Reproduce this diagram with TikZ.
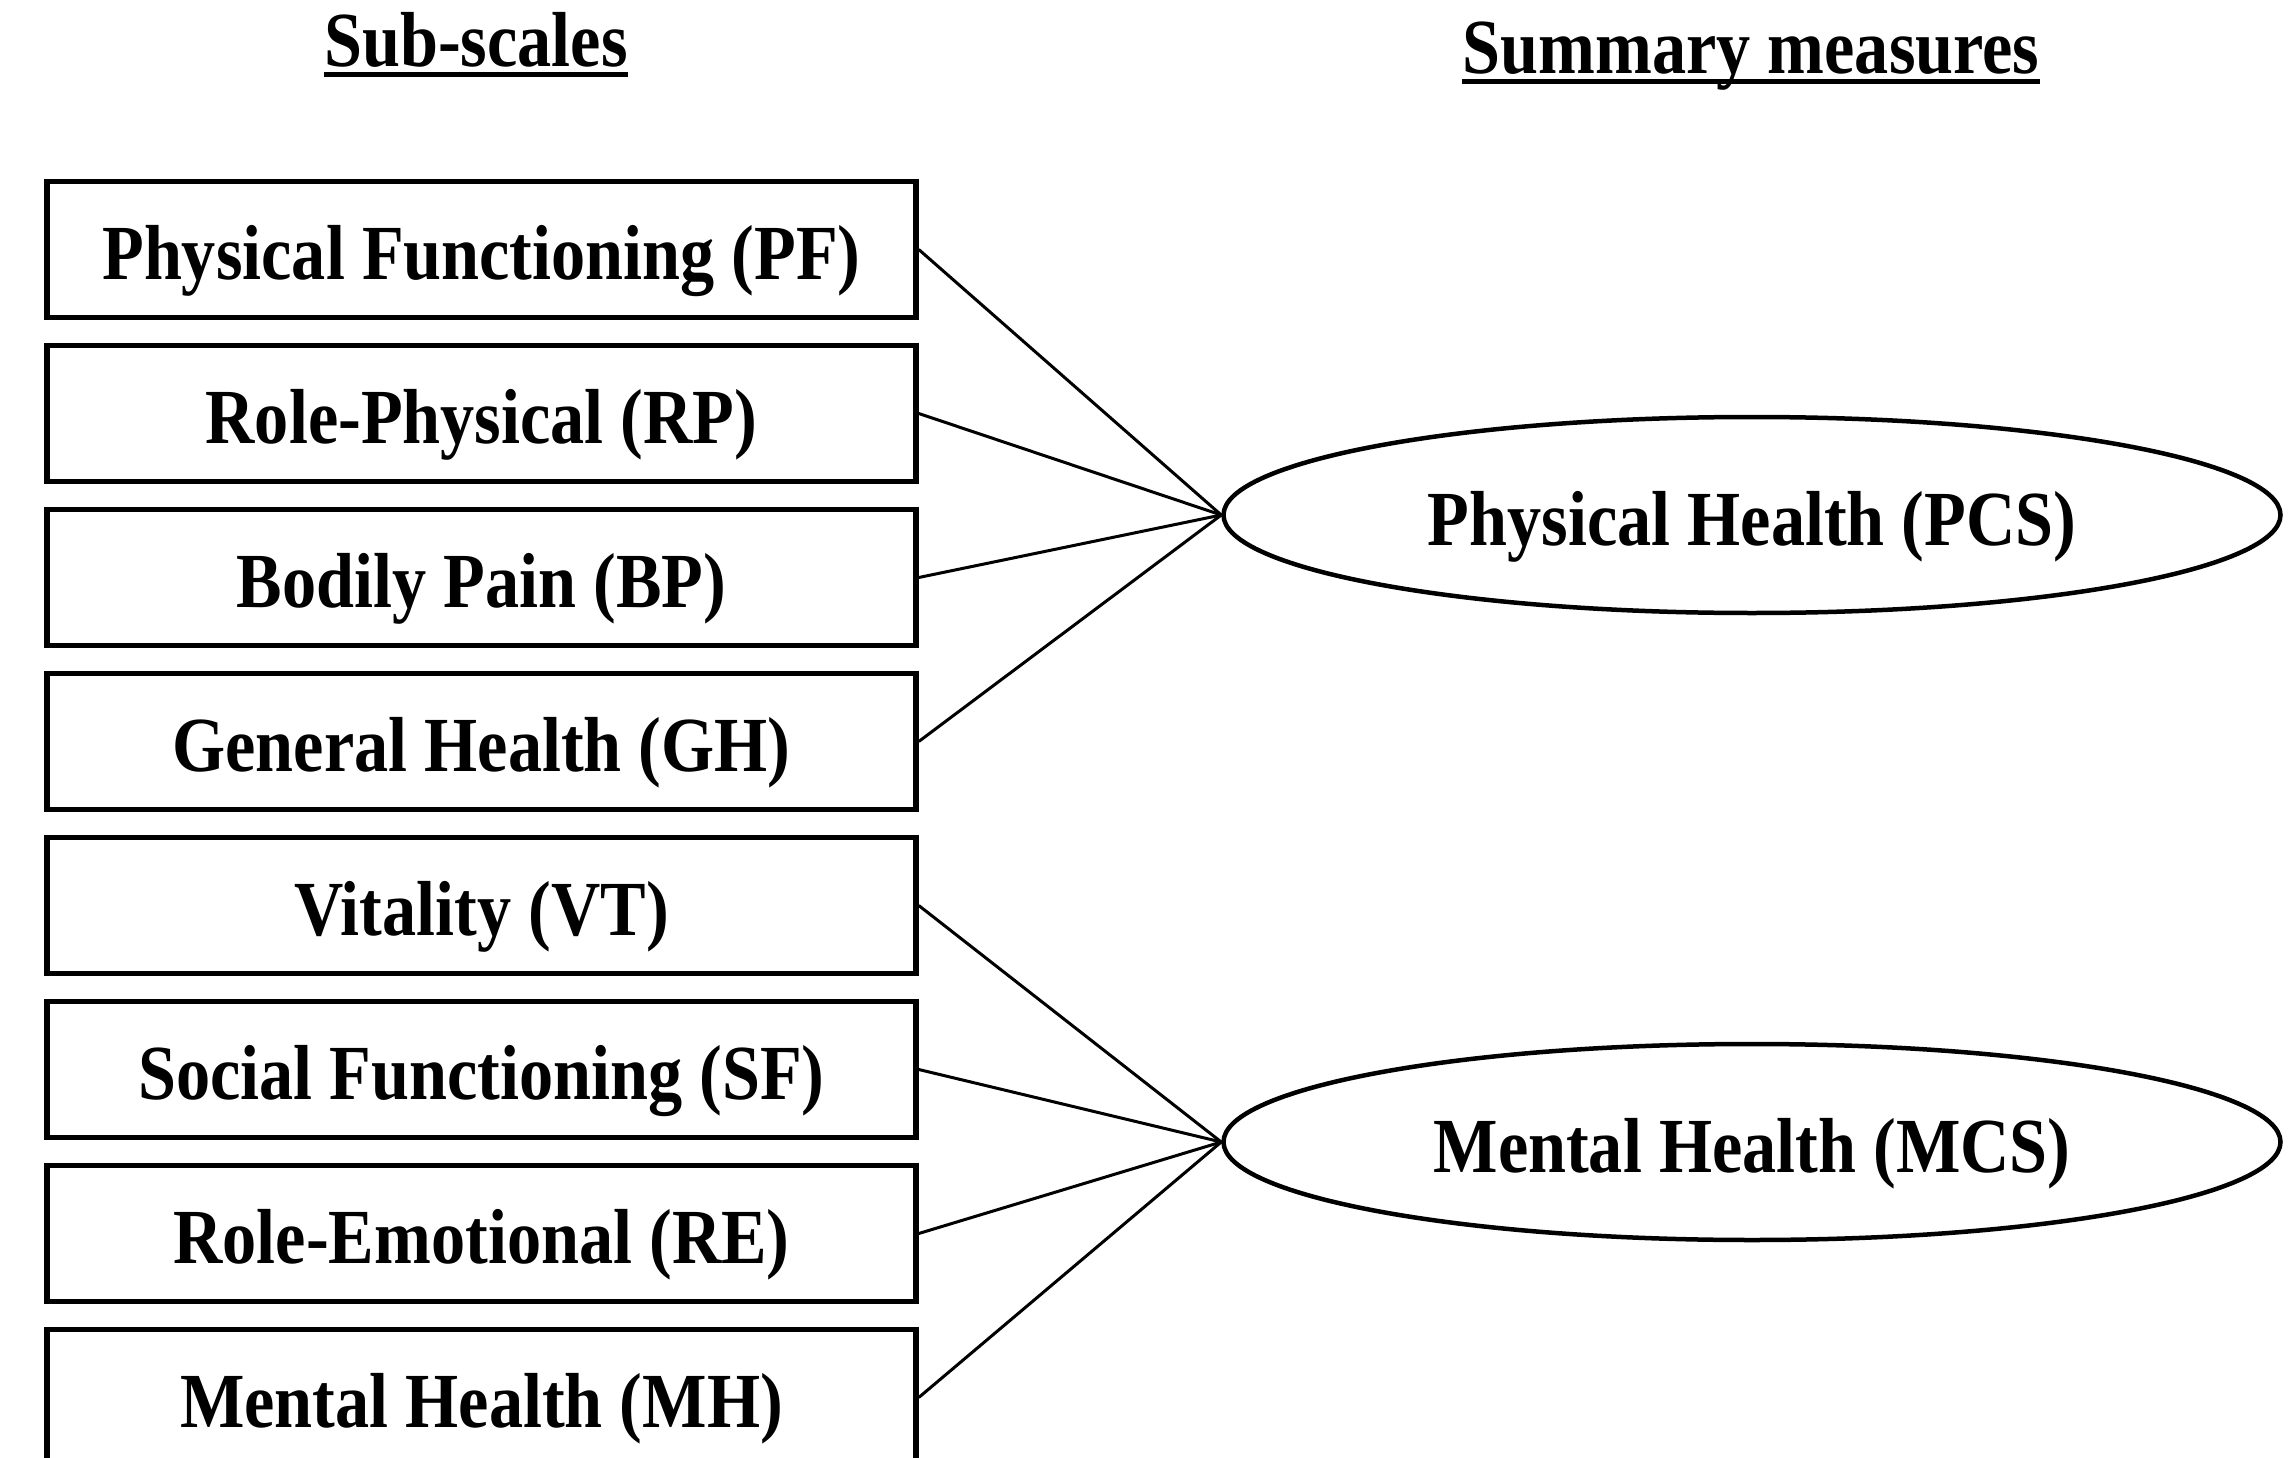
\documentclass[tikz,border=0pt]{standalone}
\usepackage{fontspec}
\setmainfont{Liberation Serif}
\newfontfamily\labfont[FakeStretch=0.875]{Liberation Serif}
\usetikzlibrary{shapes.geometric}
\begin{document}
\begin{tikzpicture}[x=1pt,y=-1pt,
  lbl/.style={font=\labfont\bfseries\fontsize{78}{84}\selectfont},
  sub/.style={lbl, draw, line width=5.5pt, minimum width=869pt, minimum height=136pt, inner sep=0pt, text height=60pt, text depth=0pt},
  summ/.style={lbl, draw, ellipse, line width=4.5pt, minimum width=1057pt, minimum height=196pt, inner sep=0pt, text height=60pt, text depth=0pt},
  link/.style={line width=3pt},
  hdr/.style={lbl, anchor=base, inner sep=0pt},
  uline/.style={line width=5pt}]
\useasboundingbox (0,0) rectangle (2295,1458);
\fill[white] (0,0) rectangle (2295,1458);
\clip (0,0) rectangle (2295,1458);

\node[hdr] (h1) at (476,67) {Sub-scales};
\draw[uline] ([yshift=-8pt]h1.base west) -- ([yshift=-8pt]h1.base east);
\node[hdr] (h2) at (1751,74) {Summary measures};
\draw[uline] ([yshift=-8pt]h2.base west) -- ([yshift=-8pt]h2.base east);

\node[sub] (pf) at (481.5,249.5) {Physical Functioning (PF)};
\node[sub] (rp) at (481.5,413.5) {Role-Physical (RP)};
\node[sub] (bp) at (481.5,577.5) {Bodily Pain (BP)};
\node[sub] (gh) at (481.5,741.5) {General Health (GH)};
\node[sub] (vt) at (481.5,905.5) {Vitality (VT)};
\node[sub] (sf) at (481.5,1069.5) {Social Functioning (SF)};
\node[sub] (re) at (481.5,1233.5) {Role-Emotional (RE)};
\node[sub] (mh) at (481.5,1397.5) {Mental Health (MH)};

\node[summ] (pcs) at (1752,515) {Physical Health (PCS)};
\node[summ] (mcs) at (1752,1142) {Mental Health (MCS)};

\foreach \s in {pf,rp,bp,gh} \draw[link] (\s.east) -- (pcs.west);
\foreach \s in {vt,sf,re,mh} \draw[link] (\s.east) -- (mcs.west);
\end{tikzpicture}
\end{document}
